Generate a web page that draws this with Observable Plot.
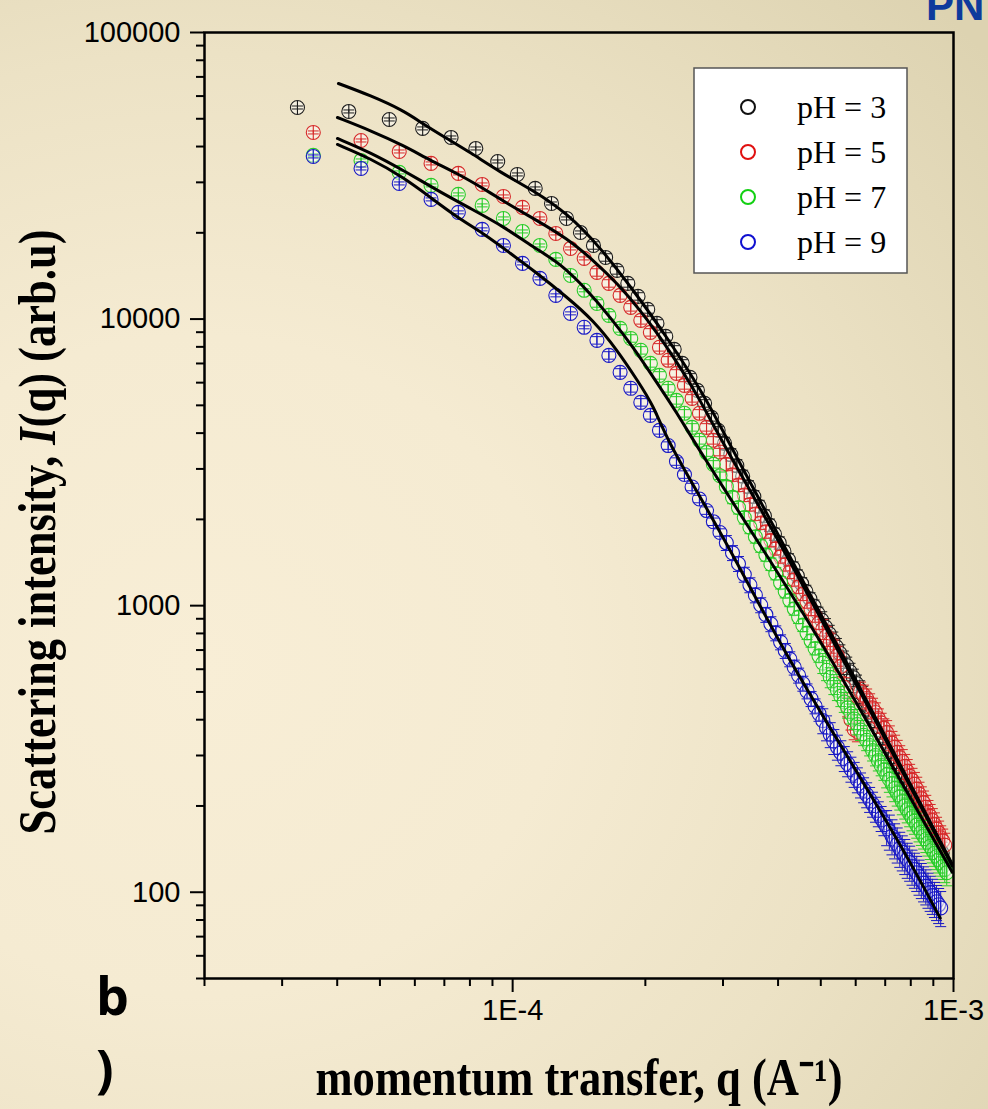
<!DOCTYPE html>
<html><head><meta charset="utf-8">
<script src="https://cdn.jsdelivr.net/npm/d3@7"></script>
<script src="https://cdn.jsdelivr.net/npm/@observablehq/plot@0.6"></script>
<style>
html,body{margin:0;padding:0;width:988px;height:1109px;overflow:hidden;}
body{background:radial-gradient(ellipse 105% 85% at 20% 60%, #f8eed6 0%, #f5ebd2 35%, #ece2c5 65%, #ddd3b1 100%);}
#chart svg{display:block;}
</style></head><body><div id="chart"></div>
<script>
// ---------- data (q in units of 1e-5 A^-1, intensity in arb.u) ----------
const qPH3 = [3.25,4.25,5.25,6.25,7.25,8.25,9.25,10.25,11.25,12.25,13.25,14.25,15.25,16.25,17.25,18.25,19.25,20.25,21.25,22.25,23.25,24.25,25.25,26.25,27.25,28.25,29.25,30.25,31.25,32.25,33.25,34.25,35.25,36.25,37.25,38.25,39.25,40.25,41.25,42.25,43.25,44.25,45.25,46.25,47.25,48.25,49.25,50.25,51.25,52.25,53.25,54.25,55.25,56.25,57.25,58.25,59.25,60.25,61.25,62.25,63.25,64.25,65.25,66.25,67.25,68.25,69.25,70.25,71.25,72.25,73.25,74.25,75.25,76.25,77.25,78.25,79.25,80.25,81.25,82.25,83.25,84.25,85.25,86.25,87.25,88.25,89.25,90.25,91.25,92.25,93.25,94.25];
const qOther = [3.53,4.53,5.53,6.53,7.53,8.53,9.53,10.53,11.53,12.53,13.53,14.53,15.53,16.53,17.53,18.53,19.53,20.53,21.53,22.53,23.53,24.53,25.53,26.53,27.53,28.53,29.53,30.53,31.53,32.53,33.53,34.53,35.53,36.53,37.53,38.53,39.53,40.53,41.53,42.53,43.53,44.53,45.53,46.53,47.53,48.53,49.53,50.53,51.53,52.53,53.53,54.53,55.53,56.53,57.53,58.53,59.53,60.53,61.53,62.53,63.53,64.53,65.53,66.53,67.53,68.53,69.53,70.53,71.53,72.53,73.53,74.53,75.53,76.53,77.53,78.53,79.53,80.53,81.53,82.53,83.53,84.53,85.53,86.53,87.53,88.53,89.53,90.53,91.53,92.53,93.53,94.53,95.53,96.53];

const iPH3 = [54740,53030,49720,46270,43030,39390,35480,31970,28570,25320,22450,20060,18070,16410,14790,13320,12000,10810,9660,8700,7840,7005,6262,5640,5080,4540,4090,3685,
 3364,3080,2828,2603,2401,2220,2057,1910,1777,1656,1546,1446,1354,1270,1193,1122,1057,997,941,890,842,798,756,718,682,649,618,588,561,535,511,489,465,443,423,404,385,368,352,337,323,309,297,285,273,262,252,242,233,224,216,208,200,193,186,180,173,167.5,162,156,151,146,141,137];
const iPH5 = [44800,42000,38450,34930,32230,29500,26790,24530,22450,19900,17640,16280,14550,13320,12100,10990,9900,8990,7970,7180,6465,5870,5290,4690,4190,3775,
 3436,3114,2859,2633,2432,2252,2089,1943,1810,1690,1582,1482,1391,1309,1232,1162,1098,1032,972,922,870,828,783,742,703,668,614,519,445,400,370,364,501,489,474,456,440,424,404,390,373,361,346,331,321,308,295,286,275,264,254,246,238,229,220,212,205,198,190,184,178,172,166,161,155,151,146];
const iPH7 = [37300,35770,32490,29270,27230,24930,22450,20220,18070,16150,14200,12600,11340,10300,9280,8560,7780,7005,6362,5733,5205,4690,4190,3775,
 3422,3113,2841,2602,2388,2198,2029,1877,1740,1616,1504,1396,1295,1203,1120,1044,975,912,855,802,754,709,668,630,595,562,532,507,483,461,440,420,402,385,368,353,339,325,312,300,288,277,267,257,248,239,230,222,215,207,200,194,188,182,177,171.5,166.5,161.8,157.2,152.8,148.6,144.5,140.6,136.8,133.2,129.7,126.4,123.1,120,117];
const iPH9 = [36940,33540,29740,26160,23570,20560,18070,15640,13870,12100,10470,9360,8430,7470,6517,5733,5122,4614,4090,3620,
 3184,2868,2595,2356,2147,1963,1800,1657,1528,1400,1284,1180,1088,1005,930,863,802,746,696,651,609,571,535,503,473,446,420,397,375,355,336,321,307,293,281,269,258,247,237,228,219,211,203,195,188,181,175,169,163,157,152,147,142,138,134,130,127,123,120,117,113.5,110.5,107.6,105,102.2,99.7,97.3,94.9,92.6,90.4,88.2];

// relative error bars, by q range (upper bound of range)
const errQ   = [1.5e-4, 3e-4, 5e-4, 7e-4, 1.2e-3];
const errPH3 = [0.012, 0.03, 0.05, 0.07, 0.09];
const errPH5 = [0.012, 0.03, 0.05, 0.08, 0.10];
const errPH7 = [0.012, 0.03, 0.05, 0.08, 0.10];
const errPH9 = [0.012, 0.03, 0.06, 0.10, 0.14];

// fitted curves (q in A^-1)
const fit1Q = [4.026e-5,4.757e-5,5.653e-5,6.242e-5,6.965e-5,8.017e-5,9.38e-5,1.1143e-4,1.331e-4,1.5811e-4,1.8785e-4,2.2431e-4,2.7646e-4,3.0686e-4,6.242e-4,9.935e-4];
const fit1I = [66390,60300,53450,48140,43370,38150,32490,28110,23380,17790,12600,8632,5204,3775,494.9,125.3];
const fit2Q = [4.005e-5,4.757e-5,5.653e-5,6.509e-5,7.489e-5,8.58e-5,9.883e-5,1.1143e-4,1.331e-4,1.5245e-4,1.7278e-4,1.9484e-4,2.1628e-4,2.4007e-4,2.6654e-4,2.9127e-4,4.1111e-4,6.242e-4,9.935e-4];
const fit2I = [50510,45510,40350,35780,32230,28570,24930,22450,19120,16030,13320,10720,8632,6783,5204,3994,1586,479.3,123.3];
const fit3Q = [4.005e-5,4.757e-5,5.653e-5,6.751e-5,8.017e-5,9.528e-5,1.1143e-4,1.2833e-4,1.4776e-4,1.6658e-4,1.8785e-4,2.0852e-4,2.3633e-4,2.624e-4,3.781e-4,5.172e-4,9.935e-4];
const fit3I = [42680,38150,33020,28110,24330,21060,17790,15650,12600,10140,7965,6262,4690,3568,1487,698.9,117.5];
const fit4Q = [4.005e-5,4.757e-5,5.653e-5,6.509e-5,7.489e-5,8.58e-5,9.883e-5,1.1143e-4,1.331e-4,1.5245e-4,1.7278e-4,1.9181e-4,2.0852e-4,2.2431e-4,2.6654e-4,3.1664e-4,4.1111e-4,5.337e-4,7.57e-4,9.33e-4];
const fit4I = [40680,36360,31210,26580,22630,19910,16950,14790,11900,9896,7775,6113,5000,3775,2388,1499,698.9,358.8,148.3,81.2];

const seriesNames = ["pH = 3","pH = 5","pH = 7","pH = 9"];
const seriesColors = ["#1c1c1c","#d62828","#28cc28","#1818c4"];
const legendColors = ["#111111","#e01010","#12d012","#1010d0"];

const xMajor = [1e-4, 1e-3];
const xMajorLabels = ["1E-4", "1E-3"];
const xMinor = [2e-5,3e-5,4e-5,5e-5,6e-5,7e-5,8e-5,9e-5,2e-4,3e-4,4e-4,5e-4,6e-4,7e-4,8e-4,9e-4];
const yMajor = [100, 1000, 10000, 100000];
const yMajorLabels = ["100","1000","10000","100000"];
const yMinor = [50,60,70,80,90,200,300,400,500,600,700,800,900,2000,3000,4000,5000,6000,7000,8000,9000,20000,30000,40000,50000,60000,70000,80000,90000];

// ---------- build tables ----------
const seriesDefs = [
  {name: seriesNames[0], q: qPH3,   I: iPH3, err: errPH3, color: seriesColors[0]},
  {name: seriesNames[1], q: qOther, I: iPH5, err: errPH5, color: seriesColors[1]},
  {name: seriesNames[2], q: qOther, I: iPH7, err: errPH7, color: seriesColors[2]},
  {name: seriesNames[3], q: qOther, I: iPH9, err: errPH9, color: seriesColors[3]}
];
function rowsOf(s) {
  return s.I.map((I, i) => {
    const q = s.q[i] * 1e-5;
    let k = errQ.findIndex(t => q < t); if (k < 0) k = errQ.length - 1;
    const e = s.err[k];
    return {q, I, lo: I * (1 - e), hi: I * (1 + e)};
  });
}
const fits = [[fit1Q, fit1I], [fit2Q, fit2I], [fit3Q, fit3I], [fit4Q, fit4I]];
const fitRows = fits.flatMap(([Q, I], k) => Q.map((q, i) => ({q, I: I[i], fit: k})));

// symbols
const circleBar = {draw(ctx, size) { const r = Math.sqrt(size / Math.PI); ctx.moveTo(r, 0); ctx.arc(0, 0, r, 0, 2 * Math.PI); ctx.moveTo(0, -r); ctx.lineTo(0, r); }};
const capSym = {draw(ctx, size) { const r = Math.sqrt(size / Math.PI); ctx.moveTo(-r, 0); ctx.lineTo(r, 0); }};

const dataMarks = seriesDefs.flatMap(s => {
  const rows = rowsOf(s);
  return [
    Plot.dot(rows, {x: "q", y: "I", r: 7, symbol: circleBar, stroke: s.color, strokeWidth: 1.1, fill: "white", fillOpacity: 0.45}),
    Plot.ruleX(rows, {x: "q", y1: "lo", y2: "hi", stroke: s.color, strokeWidth: 1}),
    Plot.dot(rows, {x: "q", y: "lo", r: 5.5, symbol: capSym, stroke: s.color, strokeWidth: 1, fill: "none"}),
    Plot.dot(rows, {x: "q", y: "hi", r: 5.5, symbol: capSym, stroke: s.color, strokeWidth: 1, fill: "none"})
  ];
});

const sansFont = "Liberation Sans, Arial, Helvetica, sans-serif";
const serifFont = "Liberation Serif, 'Times New Roman', Times, serif";

const svg = Plot.plot({
  width: 988, height: 1109,
  marginLeft: 204, marginRight: 35, marginTop: 32, marginBottom: 131,
  x: {type: "log", domain: [2e-5, 1e-3]},
  y: {type: "log", domain: [50, 100000]},
  style: {background: "transparent", color: "black", overflow: "visible"},
  marks: [
    ...dataMarks,
    Plot.line(fitRows, {x: "q", y: "I", z: "fit", stroke: "black", strokeWidth: 3, curve: "basis"}),
    Plot.axisX(xMinor, {tickSize: 8, strokeWidth: 2, fill: "none", label: null}),
    Plot.axisX(xMajor, {tickSize: 14, strokeWidth: 2, fill: "none", label: null}),
    Plot.axisY(yMinor, {tickSize: 8, strokeWidth: 2, fill: "none", label: null}),
    Plot.axisY(yMajor, {tickSize: 14, strokeWidth: 2, fill: "none", label: null}),
    Plot.text(xMajor, {x: d => d, text: (d, i) => xMajorLabels[i], frameAnchor: "bottom", lineAnchor: "top", dy: 21, fontSize: 29, fontFamily: sansFont, fill: "black"}),
    Plot.text(yMajor, {y: d => d, text: (d, i) => yMajorLabels[i], frameAnchor: "left", textAnchor: "end", dx: -24, fontSize: 29, fontFamily: sansFont, fill: "black"}),
    Plot.frame({stroke: "black", strokeWidth: 2.5})
  ]
});
document.getElementById("chart").append(svg);

// ---------- titles, legend, panel letter ----------
const s = d3.select(svg);
const yl = s.append("text")
  .attr("transform", "translate(55,532) rotate(-90)")
  .attr("text-anchor", "middle").attr("font-family", serifFont).attr("font-weight", "bold")
  .attr("font-size", 52).attr("textLength", 605).attr("lengthAdjust", "spacingAndGlyphs").attr("fill", "black");
yl.append("tspan").text("Scattering intensity, ");
yl.append("tspan").attr("font-style", "italic").text("I");
yl.append("tspan").text("(q) (arb.u)");

s.append("text")
  .attr("x", 579).attr("y", 1095)
  .attr("text-anchor", "middle").attr("font-family", serifFont).attr("font-weight", "bold")
  .attr("font-size", 52).attr("textLength", 527).attr("lengthAdjust", "spacingAndGlyphs").attr("fill", "black")
  .text("momentum transfer, q (A\u207B\u00B9)");

// legend box
const lg = s.append("g").attr("text-anchor", "start");
lg.append("rect").attr("x", 694).attr("y", 68).attr("width", 213).attr("height", 205)
  .attr("fill", "white").attr("stroke", "#555").attr("stroke-width", 1.5);
seriesNames.forEach((name, i) => {
  const cy = 107 + i * 45;
  lg.append("circle").attr("cx", 748).attr("cy", cy).attr("r", 7).attr("fill", "none")
    .attr("stroke", legendColors[i]).attr("stroke-width", 2);
  lg.append("text").attr("x", 797).attr("y", cy + 11).attr("text-anchor", "start").attr("font-family", serifFont)
    .attr("font-size", 32).attr("fill", "black").text(name);
});

// panel letter "b)" (wrapped onto two lines) and header fragment
const pl = s.append("text").attr("text-anchor", "start").attr("font-family", "'Open Sans', 'Noto Sans', sans-serif")
  .attr("font-weight", "bold").attr("font-size", 52).attr("fill", "black");
pl.append("tspan").attr("x", 96).attr("y", 1015).text("b");
pl.append("tspan").attr("x", 96).attr("y", 1087).text(")");
s.append("text").attr("x", 926).attr("y", 20).attr("text-anchor", "start").attr("font-family", sansFont)
  .attr("font-weight", "bold").attr("font-size", 42).attr("fill", "#0d3a9c").text("PN");
</script></body></html>
